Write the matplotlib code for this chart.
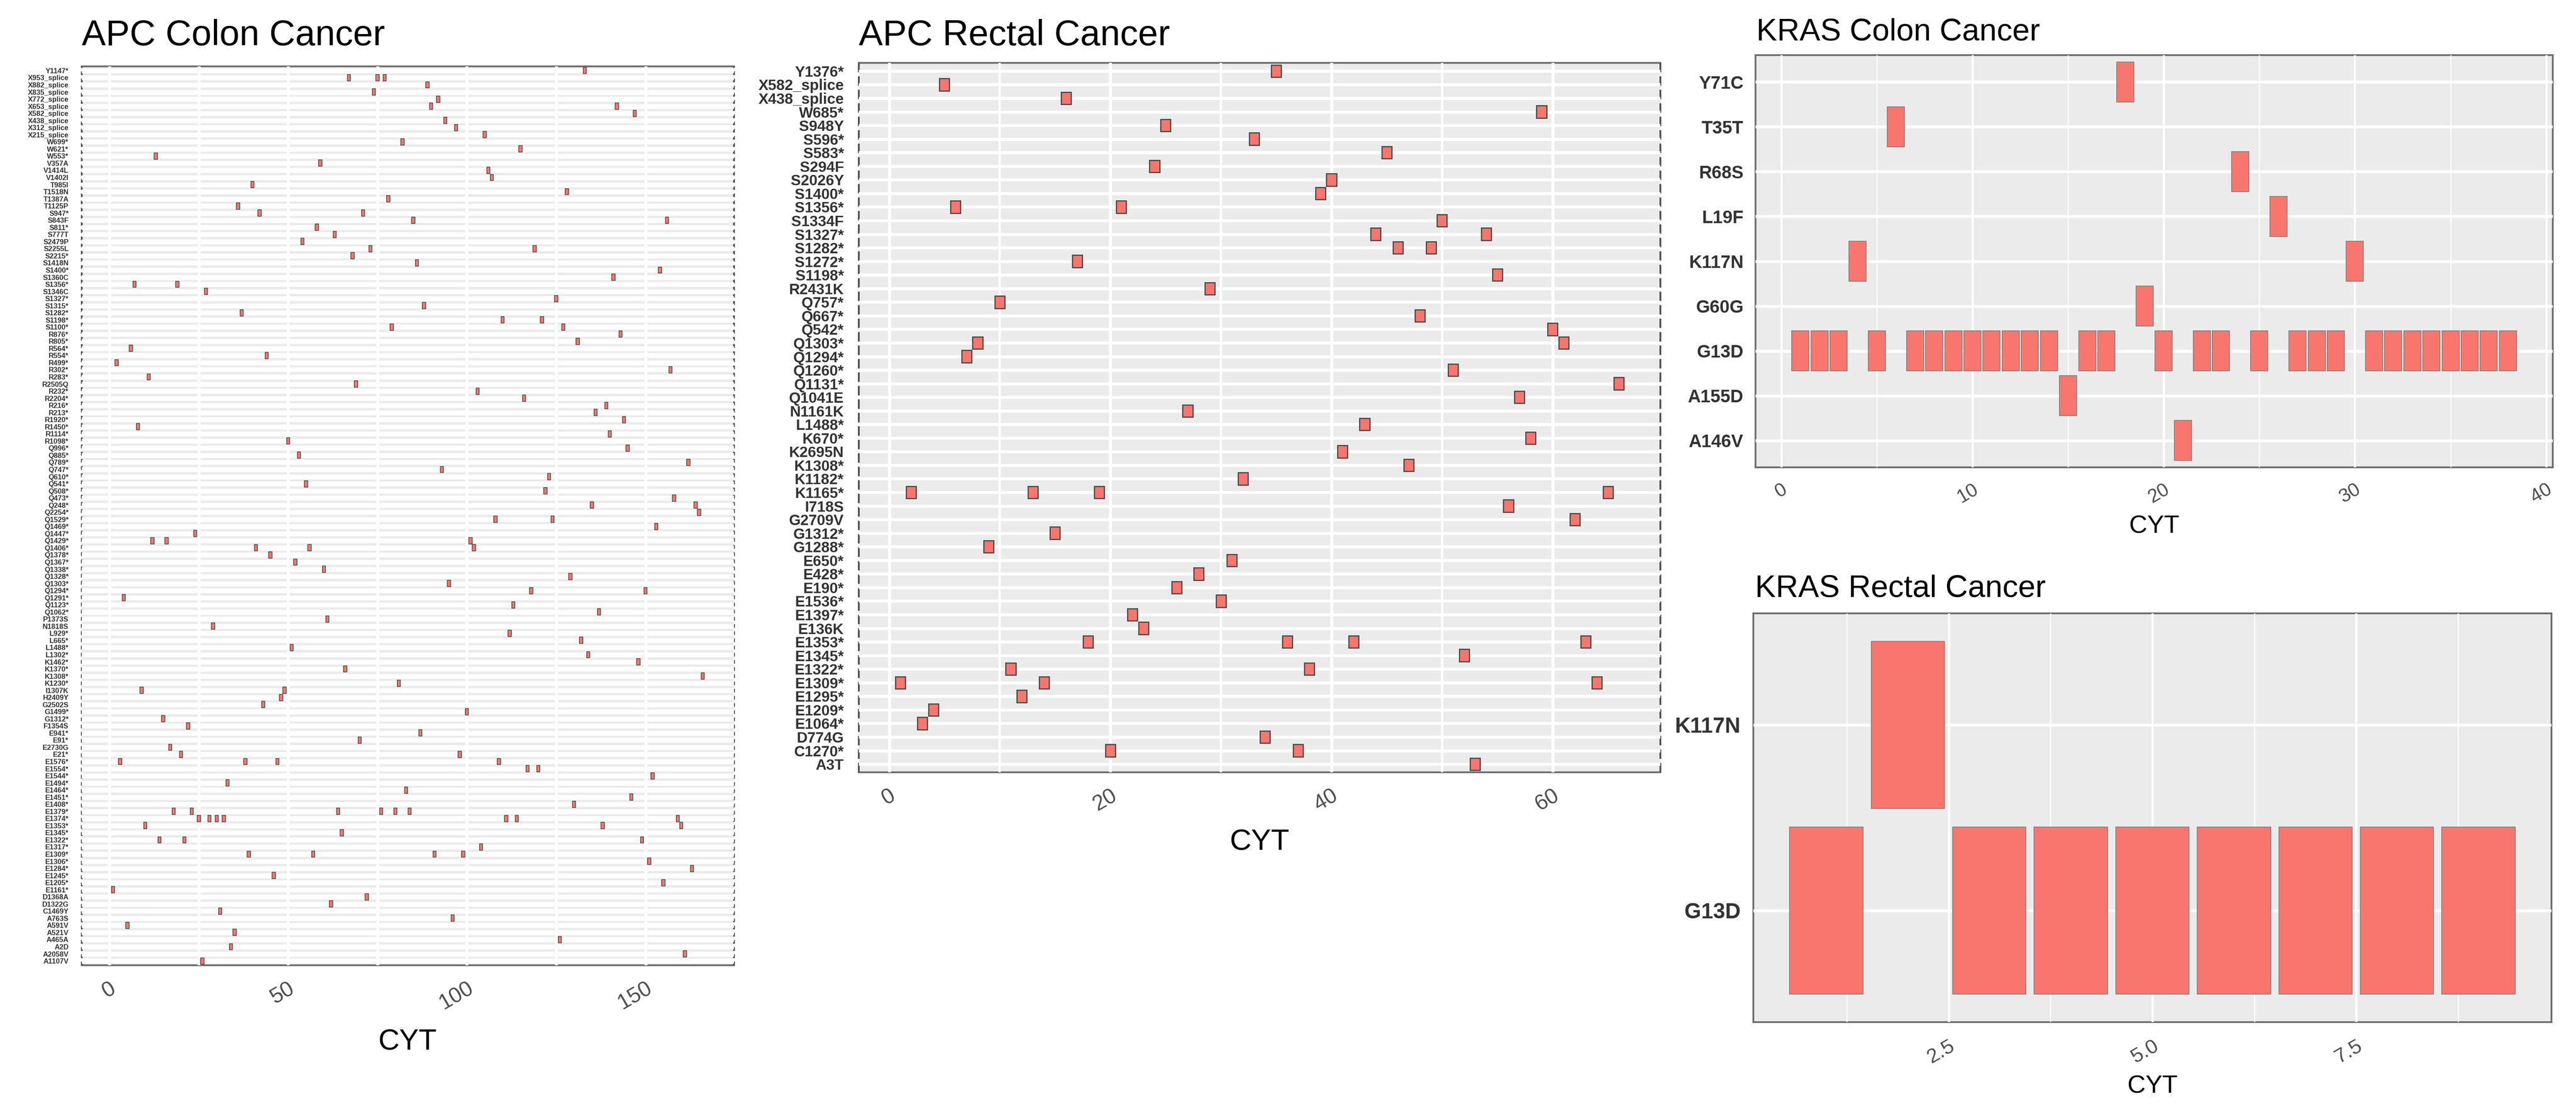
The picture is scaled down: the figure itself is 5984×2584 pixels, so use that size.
import matplotlib
matplotlib.use("Agg")
import matplotlib.pyplot as plt
from matplotlib.lines import Line2D
from matplotlib.ticker import FixedLocator

plt.rcParams['font.family'] = ['Liberation Sans', 'DejaVu Sans']

W, H = 5984, 2584
FILL = '#F8766D'
PANEL_BG = '#EBEBEB'
BORDER = '#6E6E6E'

# ---------------- APC colon (labels unreadable in source, rows top -> bottom) ----------------
colon_mut_raw = [
    'Y1147*', 'X953_splice', 'X882_splice', 'X835_splice', 'X772_splice', 'X653_splice',
    'X582_splice', 'X438_splice', 'X312_splice', 'X215_splice', 'W699*', 'W621*', 'W553*',
    'V357A', 'V1414L', 'V1402I', 'T985I', 'T1518N', 'T1387A', 'T1125P', 'S947*', 'S843F',
    'S811*', 'S777T', 'S2479P', 'S2255L', 'S2215*', 'S1418N', 'S1400*', 'S1360C', 'S1356*',
    'S1346C', 'S1327*', 'S1315*', 'S1282*', 'S1198*', 'S1100*', 'R876*', 'R805*', 'R564*',
    'R554*', 'R499*', 'R302*', 'R283*', 'R232*', 'R216*', 'R213*', 'R2505Q', 'R2204*',
    'R1920*', 'R1450*', 'R1114*', 'R1098*', 'Q996*', 'Q885*', 'Q789*', 'Q747*', 'Q610*',
    'Q541*', 'Q508*', 'Q473*', 'Q248*', 'Q2254*', 'Q1529*', 'Q1469*', 'Q1447*', 'Q1429*',
    'Q1406*', 'Q1378*', 'Q1367*', 'Q1338*', 'Q1328*', 'Q1303*', 'Q1294*', 'Q1291*', 'Q1123*',
    'Q1062*', 'P1373S', 'N1818S', 'L929*', 'L665*', 'L1488*', 'L1302*', 'K1462*', 'K1370*',
    'K1308*', 'K1230*', 'I1307K', 'H2409Y', 'G2502S', 'G1499*', 'G1312*', 'F1354S', 'E941*',
    'E91*', 'E2730G', 'E21*', 'E1576*', 'E1554*', 'E1544*', 'E1494*', 'E1464*', 'E1451*',
    'E1408*', 'E1379*', 'E1374*', 'E1353*', 'E1345*', 'E1322*', 'E1317*', 'E1309*', 'E1306*',
    'E1284*', 'E1245*', 'E1205*', 'E1161*', 'D1368A', 'D1322G', 'C1469Y', 'A763S', 'A591V',
    'A521V', 'A465A', 'A2D', 'A2058V', 'A1107V',
]
colon_mut = sorted(colon_mut_raw, reverse=True)

colon_cyt = [
    [133], [67, 75, 77], [89], [74], [92], [90, 142], [147], [94], [97], [105],
    [82], [115], [13], [59], [106], [107], [40], [128], [78], [36],
    [42, 71], [85, 156], [58], [63], [54], [73, 119], [68], [86], [154], [141],
    [7, 19], [27], [125], [88], [37], [110, 121], [79, 127], [143], [131], [6],
    [44], [2], [157], [11], [69], [103], [116], [139], [136], [144],
    [8], [140], [50], [145], [53], [162], [93], [123], [55], [122],
    [158], [135, 164], [165], [108, 124], [153], [24], [12, 16, 101], [41, 56, 102], [45], [52],
    [60], [129], [95], [118, 150], [4], [113], [137], [61], [29], [112],
    [132], [51], [134], [148], [66], [166], [81], [9, 49], [48], [43],
    [100], [15], [22], [87], [70], [17], [20, 98], [3, 38, 47, 109], [117, 120], [152],
    [33], [83], [146], [130], [18, 23, 64, 76, 80, 84], [25, 28, 30, 32, 111, 114, 159],
    [10, 138, 160], [65], [14, 21, 149], [104],
    [39, 57, 91, 99], [151], [163], [46], [155], [1], [72], [62], [31], [96],
    [5], [35], [126], [34], [161], [26],
]

# ---------------- APC rectal (rows top -> bottom) ----------------
rectal_mut = [
    'Y1376*', 'X582_splice', 'X438_splice', 'W685*', 'S948Y', 'S596*', 'S583*', 'S294F',
    'S2026Y', 'S1400*', 'S1356*', 'S1334F', 'S1327*', 'S1282*', 'S1272*', 'S1198*', 'R2431K',
    'Q757*', 'Q667*', 'Q542*', 'Q1303*', 'Q1294*', 'Q1260*', 'Q1131*', 'Q1041E', 'N1161K',
    'L1488*', 'K670*', 'K2695N', 'K1308*', 'K1182*', 'K1165*', 'I718S', 'G2709V', 'G1312*',
    'G1288*', 'E650*', 'E428*', 'E190*', 'E1536*', 'E1397*', 'E136K', 'E1353*', 'E1345*',
    'E1322*', 'E1309*', 'E1295*', 'E1209*', 'E1064*', 'D774G', 'C1270*', 'A3T',
]
rectal_cyt = [
    [35], [5], [16], [59], [25], [33], [45], [24], [40], [39], [6, 21], [50], [44, 54],
    [46, 49], [17], [55], [29], [10], [48], [60], [8, 61], [7], [51], [66], [57], [27],
    [43], [58], [41], [47], [32], [2, 13, 19, 65], [56], [62], [15], [9], [31], [28], [26],
    [30], [22], [23], [18, 36, 42, 63], [52], [11, 38], [1, 14, 64], [12], [4], [3], [34],
    [20, 37], [53],
]

# ---------------- KRAS colon / rectal (rows top -> bottom) ----------------
kras_colon_mut = ['Y71C', 'T35T', 'R68S', 'L19F', 'K117N', 'G60G', 'G13D', 'A155D', 'A146V']
kras_colon_cyt = [
    [18], [6], [24], [26], [4, 30], [19],
    [1, 2, 3, 5, 7, 8, 9, 10, 11, 12, 13, 14, 16, 17, 20, 22, 23, 25, 27, 28, 29,
     31, 32, 33, 34, 35, 36, 37, 38],
    [15], [21],
]
kras_rectal_mut = ['K117N', 'G13D']
kras_rectal_cyt = [[2], [1, 3, 4, 5, 6, 7, 8, 9]]


def px_axes(fig, left, top, right, bottom):
    return fig.add_axes([left / W, 1 - bottom / H, (right - left) / W, (bottom - top) / H])


def draw_panel(ax, labels, rows, major, minor, st):
    n = len(labels)
    xs, ys = [], []
    for i, r in enumerate(rows):
        for v in r:
            xs.append(v)
            ys.append(n - i)
    ax.bar(xs, 0.9, bottom=[y - 0.45 for y in ys], width=0.9, color=FILL,
           edgecolor=st['edge'], linewidth=st['elw'], zorder=3)

    lo, hi = min(xs) - 0.45, max(xs) + 0.45
    pad = 0.05 * (hi - lo)
    ax.set_xlim(lo - pad, hi + pad)
    ax.set_ylim(0.4, n + 0.6)
    ax.set_facecolor(PANEL_BG)
    ax.set_axisbelow(True)
    for s in ax.spines.values():
        s.set_visible(False)

    ax.xaxis.set_major_locator(FixedLocator(major))
    ax.xaxis.set_minor_locator(FixedLocator(minor))
    ax.set_xticklabels(st['xfmt'](major))
    ax.set_yticks(range(1, n + 1))
    ax.set_yticklabels(labels[::-1])

    ax.grid(which='major', axis='x', color='white', linewidth=st['gx'])
    ax.grid(which='minor', axis='x', color='white', linewidth=st['gxm'])
    ax.grid(which='major', axis='y', color='white', linewidth=st['gy'])

    ax.tick_params(axis='x', which='both', length=0, pad=st['xpad'],
                   labelsize=st['xsize'], labelcolor='#4D4D4D')
    ax.tick_params(axis='y', which='both', length=0, pad=st['ypad'],
                   labelsize=st['ysize'], labelcolor='#333333')
    for lab in ax.get_xticklabels():
        lab.set_rotation(30)
        lab.set_ha('right')
        lab.set_rotation_mode('anchor')
    for lab in ax.get_yticklabels():
        lab.set_fontweight('bold')

    # panel border, drawn under the gridlines like in the source
    ax.add_line(Line2D([0, 1], [1, 1], transform=ax.transAxes, color=BORDER,
                       lw=3, zorder=0.4, clip_on=False))
    ax.add_line(Line2D([0, 1], [0, 0], transform=ax.transAxes, color=BORDER,
                       lw=3, zorder=0.4, clip_on=False))
    for xx in (0, 1):
        if st['dash']:
            ax.add_line(Line2D([xx, xx], [0, 1], transform=ax.transAxes, color='#505050',
                               lw=3, dashes=st['dash'], zorder=0.4, clip_on=False))
        else:
            ax.add_line(Line2D([xx, xx], [0, 1], transform=ax.transAxes, color=BORDER,
                               lw=3, zorder=0.4, clip_on=False))


def int_fmt(v):
    return [str(int(t)) for t in v]


def dec_fmt(v):
    return ['%.1f' % t for t in v]


fig = plt.figure(figsize=(W / 100, H / 100), dpi=100)

# APC Colon
ax1 = px_axes(fig, 190, 154, 1705, 2241)
draw_panel(ax1, colon_mut, colon_cyt, [0, 50, 100, 150], [25, 75, 125],
           dict(edge='#4A4A4A', elw=1.2, gx=5, gxm=5, gy=8, xpad=22, xsize=36,
                ypad=22, ysize=12, dash=(2.1, 1.9), xfmt=int_fmt))
fig.text(190 / W, 1 - 105 / H, 'APC Colon Cancer', fontsize=60, va='baseline')
fig.text(947 / W, 1 - 2420 / H, 'CYT', fontsize=49, ha='center', va='center')

# APC Rectal
ax2 = px_axes(fig, 1995, 146, 3857, 1793)
draw_panel(ax2, rectal_mut, rectal_cyt, [0, 20, 40, 60], [10, 30, 50],
           dict(edge='#4A4A4A', elw=2, gx=5, gxm=4, gy=5, xpad=22, xsize=36,
                ypad=25, ysize=25, dash=(5.3, 2.2), xfmt=int_fmt))
fig.text(1995 / W, 1 - 105 / H, 'APC Rectal Cancer', fontsize=60, va='baseline')
fig.text(2926 / W, 1 - 1956 / H, 'CYT', fontsize=50, ha='center', va='center')

# KRAS Colon
ax3 = px_axes(fig, 4078, 128, 5930, 1085)
draw_panel(ax3, kras_colon_mut, kras_colon_cyt, [0, 10, 20, 30, 40], [5, 15, 25, 35],
           dict(edge='#808080', elw=1.3, gx=3.6, gxm=1.8, gy=4.8, xpad=22, xsize=32,
                ypad=20, ysize=30, dash=None, xfmt=int_fmt))
fig.text(4080 / W, 1 - 93 / H, 'KRAS Colon Cancer', fontsize=52, va='baseline')
fig.text(5004 / W, 1 - 1223 / H, 'CYT', fontsize=42, ha='center', va='center')

# KRAS Rectal
ax4 = px_axes(fig, 4073, 1424, 5927, 2373)
draw_panel(ax4, kras_rectal_mut, kras_rectal_cyt, [2.5, 5.0, 7.5], [1.25, 3.75, 6.25, 8.75],
           dict(edge='#808080', elw=1.3, gx=3.8, gxm=1.9, gy=4.9, xpad=24, xsize=34,
                ypad=21, ysize=36, dash=None, xfmt=dec_fmt))
fig.text(4077 / W, 1 - 1386 / H, 'KRAS Rectal Cancer', fontsize=52, va='baseline')
fig.text(5000 / W, 1 - 2522 / H, 'CYT', fontsize=42, ha='center', va='center')

fig.savefig('out.png', dpi=100, facecolor='white')
